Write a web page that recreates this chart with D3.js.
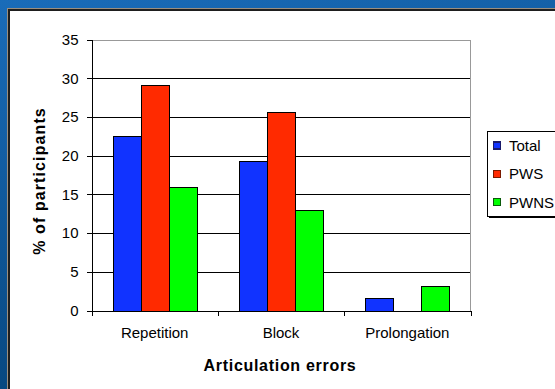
<!DOCTYPE html>
<html>
<head>
<meta charset="utf-8">
<script src="https://cdn.jsdelivr.net/npm/d3@7"></script>
<style>
  html, body { margin: 0; padding: 0; background: #0c5aa0; }
  svg { display: block; }
  text { font-family: "Liberation Sans", Arial, sans-serif; fill: #000; }
</style>
</head>
<body>
<svg id="chart" width="555" height="389"></svg>
<script>
// Articulation error types and the share of participants showing each
const categories = ["Repetition", "Block", "Prolongation"];
const seriesNames = ["Total", "PWS", "PWNS"];
const totalValues = [22.5, 19.3, 1.6];
const pwsValues = [29.1, 25.7, 0];
const pwnsValues = [16.0, 13.0, 3.2];
const yTicks = [0, 5, 10, 15, 20, 25, 30, 35];
const seriesColors = ["#1133ff", "#ff2a00", "#00ff00"];
const swatchStroke = ["#1a1a6a", "#7a1a00", "#0a5a0a"];

const seriesValues = [totalValues, pwsValues, pwnsValues];

const svg = d3.select("#chart");
const W = 555, H = 389;

// slide background
const defs = svg.append("defs");
const bg = defs.append("linearGradient").attr("id", "bg")
  .attr("x1", 0).attr("y1", 0).attr("x2", 0.3).attr("y2", 1);
bg.append("stop").attr("offset", 0).attr("stop-color", "#1a6cb9");
bg.append("stop").attr("offset", 1).attr("stop-color", "#06457c");
svg.append("rect").attr("width", W).attr("height", H).attr("fill", "url(#bg)");

// white chart panel with dark frame
svg.append("rect").attr("x", 7.5).attr("y", 8.5).attr("width", W).attr("height", H)
  .attr("fill", "none").attr("stroke", "#9a8f80").attr("stroke-width", 1);
svg.append("rect").attr("x", 9).attr("y", 10).attr("width", W).attr("height", H)
  .attr("fill", "#fff").attr("stroke", "#1e1e1e").attr("stroke-width", 2);

const plotLeft = 91.5, plotRight = 470.5, plotTop = 39.5, plotBottom = 310.5;

const x = d3.scaleBand().domain(categories).range([plotLeft, plotRight]).padding(0);
const barW = x.bandwidth() / 4.5;
const xs = d3.scaleBand().domain(seriesNames)
  .range([barW * 0.75, barW * 3.75]).padding(0);
const y = d3.scaleLinear().domain([0, 35]).range([plotBottom, plotTop]);

const g = svg.append("g").attr("shape-rendering", "crispEdges");

// horizontal gridlines
g.selectAll("line.grid").data(yTicks.filter(t => t > 0 && t < 35)).join("line")
  .attr("class", "grid")
  .attr("x1", plotLeft).attr("x2", plotRight)
  .attr("y1", d => Math.round(y(d)) + 0.5).attr("y2", d => Math.round(y(d)) + 0.5)
  .attr("stroke", "#000").attr("stroke-width", 1);

// plot frame top and right in grey
g.append("path")
  .attr("d", `M${plotLeft},${Math.round(y(35)) + 0.5}H${plotRight}V${plotBottom}`)
  .attr("fill", "none").attr("stroke", "#999").attr("stroke-width", 1);

// bars
const rows = [];
categories.forEach((c, i) => seriesNames.forEach((s, j) => {
  rows.push({ cat: c, series: s, value: seriesValues[j][i], color: seriesColors[j] });
}));
g.selectAll("rect.bar").data(rows.filter(d => d.value > 0)).join("rect")
  .attr("class", "bar")
  .attr("x", d => Math.round(x(d.cat) + xs(d.series)) + 0.5)
  .attr("y", d => Math.round(y(d.value)) + 0.5)
  .attr("width", Math.round(xs.bandwidth()))
  .attr("height", d => Math.round(y(0)) - Math.round(y(d.value)))
  .attr("fill", d => d.color)
  .attr("stroke", "#000").attr("stroke-width", 1);

// y axis
const yAxis = svg.append("g").attr("transform", `translate(${plotLeft},0)`)
  .call(d3.axisLeft(y).tickValues(yTicks).tickSize(5).tickPadding(8).tickSizeOuter(0));
yAxis.select(".domain").attr("stroke", "#000");
yAxis.selectAll(".tick line").attr("stroke", "#000");
yAxis.selectAll("text").style("font-size", "15px")
  .style("font-family", '"Liberation Sans", Arial, sans-serif').attr("fill", "#000");
yAxis.attr("shape-rendering", "crispEdges");

// x axis with ticks on the category boundaries
const xAxisG = svg.append("g").attr("transform", `translate(0,${plotBottom})`)
  .attr("shape-rendering", "crispEdges");
xAxisG.append("line").attr("x1", plotLeft).attr("x2", plotRight + 1).attr("y1", 0.5).attr("y2", 0.5)
  .attr("stroke", "#000");
const bounds = categories.map(c => x(c)).concat([plotRight]);
xAxisG.selectAll("line.tk").data(bounds).join("line").attr("class", "tk")
  .attr("x1", d => Math.round(d) + 0.5).attr("x2", d => Math.round(d) + 0.5)
  .attr("y1", 0).attr("y2", 5).attr("stroke", "#000");
xAxisG.selectAll("text").data(categories).join("text")
  .attr("x", d => x(d) + x.bandwidth() / 2).attr("y", 27)
  .attr("text-anchor", "middle").style("font-size", "15px").text(d => d);

// axis titles
svg.append("text").attr("x", 280).attr("y", 371).attr("text-anchor", "middle")
  .style("font-size", "16px").style("font-weight", "bold").style("letter-spacing", "0.7px")
  .text("Articulation errors");
svg.append("text").attr("transform", `translate(44.5,${(plotTop + plotBottom) / 2 + 6}) rotate(-90)`)
  .attr("text-anchor", "middle")
  .style("font-size", "16px").style("font-weight", "bold").style("letter-spacing", "1.1px")
  .text("% of participants");

// legend
const lg = svg.append("g").attr("shape-rendering", "crispEdges");
lg.append("rect").attr("x", 489).attr("y", 133).attr("width", 80).attr("height", 85).attr("fill", "#000");
lg.append("rect").attr("x", 487.5).attr("y", 131.5).attr("width", 80).attr("height", 85)
  .attr("fill", "#fff").attr("stroke", "#000");
const items = lg.selectAll("g.item").data(seriesNames).join("g").attr("class", "item")
  .attr("transform", (d, i) => `translate(0,${145.5 + i * 28.3})`);
items.append("rect").attr("x", 493.5).attr("y", -3.5).attr("width", 7).attr("height", 7)
  .attr("fill", (d, i) => seriesColors[i]).attr("stroke", (d, i) => swatchStroke[i]).attr("stroke-width", 1.5);
items.append("text").attr("x", 509).attr("y", 5.5).style("font-size", "15px").text(d => d);
</script>
</body>
</html>
